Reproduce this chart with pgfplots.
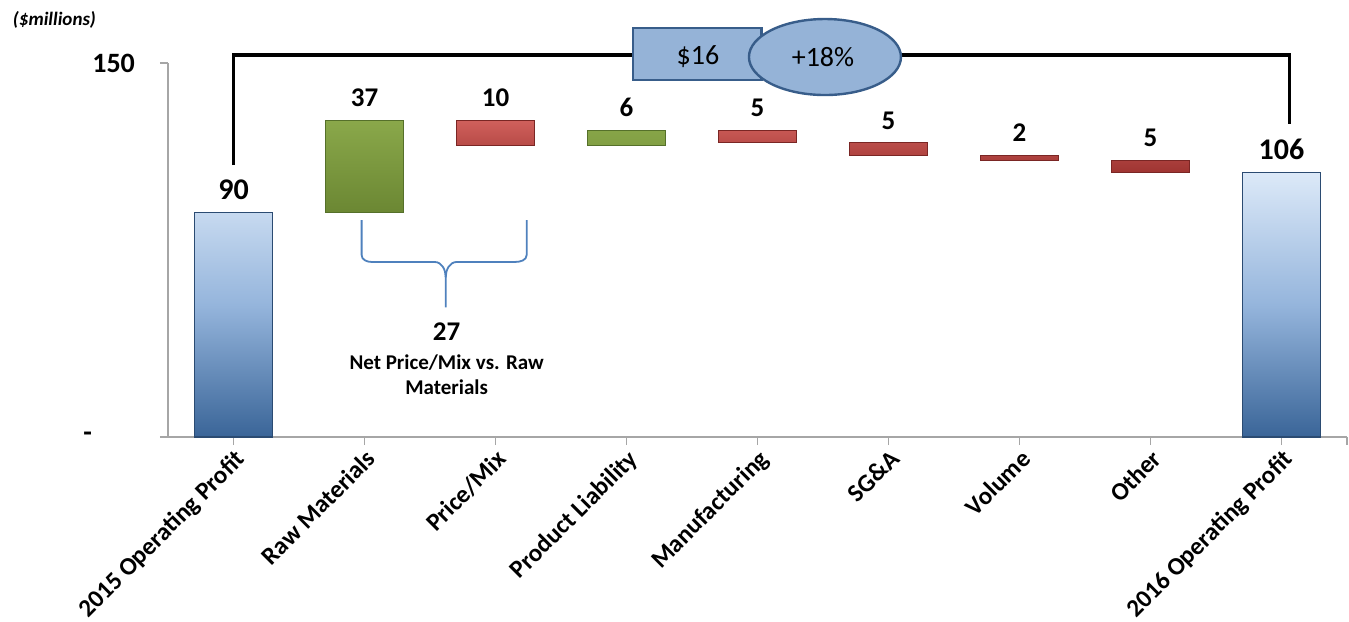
\documentclass[border=0pt]{standalone}
\usepackage{fontspec}
\setmainfont{Carlito}
\usepackage{pgfplots}
\pgfplotsset{compat=1.18}
\usepackage{pgfplotstable}

\definecolor{barblueT}{HTML}{DCE9F8}
\definecolor{barblueM}{HTML}{95B5DC}
\definecolor{barblueB}{HTML}{3A6598}
\definecolor{bluedge}{HTML}{2B4B72}
\definecolor{grnT}{HTML}{8AA84A}
\definecolor{grnB}{HTML}{6B8733}
\definecolor{grnedge}{HTML}{55702A}
\definecolor{redT}{HTML}{D0605C}
\definecolor{redB}{HTML}{9E3431}
\definecolor{rededge}{HTML}{7A2624}
\definecolor{boxfill}{HTML}{95B3D7}
\definecolor{boxedge}{HTML}{385D8A}
\definecolor{bracecol}{HTML}{4F81BD}
\definecolor{axgray}{HTML}{A6A6A6}

\pgfplotstableread{
x total
0 90
8 106
}\totals
\pgfplotstableread{
x base delta top
1 90 37 127
3 117 6 123
}\ups
\pgfplotstableread{
x base delta top
2 117 10 127
4 118 5 123
5 113 5 118
6 111 2 113
7 106 5 111
}\downs

\pgfplotsset{
  wf/.style={
    scale only axis, width=589.5pt, height=187pt,
    at={(0,0)}, anchor=south west,
    xmin=-0.5, xmax=8.5, ymin=0, ymax=150,
    clip=false,
    /pgf/number format/assume math mode=true,
  },
  hidden/.style={wf, hide axis},
  vlabel/.style={nodes near coords,
    every node near coord/.append style={anchor=south, inner sep=0pt, yshift=6.5pt,
      font=\bfseries\fontsize{13.5}{15}\selectfont, text=black}},
}

\begin{document}
\begin{tikzpicture}
\useasboundingbox (-84pt,-92pt) rectangle (590.5pt,218.5pt);
% main axis with totals
\begin{axis}[wf,
  ybar, bar width=39pt, bar shift=0pt,
  axis x line=bottom, axis y line=left,
  axis line style={axgray, line width=0.8pt, -},
  xtick={0,...,8},
  xticklabels={2015 Operating Profit, Raw Materials, Price/Mix, Product Liability, Manufacturing, SG\&A, Volume, Other, 2016 Operating Profit},
  extra x ticks={8.5}, extra x tick labels={},
  ytick={0,150}, yticklabels={{-\kern21.5pt},150},
  tick style={axgray, line width=0.8pt},
  major tick length=4pt, tick align=outside,
  xticklabel style={rotate=45, anchor=north east, inner sep=1pt,
    font=\bfseries\fontsize{12.5}{14}\selectfont},
  yticklabel style={font=\bfseries\fontsize{14}{16}\selectfont, xshift=-9pt},
]
\addplot[draw=bluedge, line width=0.6pt, top color=barblueT, bottom color=barblueB, middle color=barblueM,
  nodes near coords,
  every node near coord/.append style={anchor=south, inner sep=0pt, yshift=6pt,
      font=\bfseries\fontsize{15}{17}\selectfont, text=black}]
  table[x=x, y=total] {\totals};

% connector line and callout
\draw[black, line width=1.8pt] (axis cs:0,109) -- (axis cs:0,153.2) -- (axis cs:3.05,153.2);
\draw[black, line width=1.8pt] (axis cs:5.0,153.2) -- (axis cs:8.06,153.2) -- (axis cs:8.06,125.5);
\draw[fill=boxfill, draw=boxedge, line width=1.2pt] (axis cs:3.05,143.2) rectangle (axis cs:4.03,164);
\draw[fill=boxfill, draw=boxedge, line width=1.2pt] (axis cs:4.515,152.4) ellipse [x radius=38pt, y radius=19pt];
\node[font=\fontsize{14}{16}\selectfont] at (axis cs:3.545,152.4) {\$16};
\node[font=\fontsize{14}{16}\selectfont] at (axis cs:4.5,152.4) {+18\%};

% brace
\draw[bracecol, line width=0.9pt] (axis cs:0.978,87) -- (axis cs:0.978,73)
  to[out=-90,in=180] (axis cs:1.054,70.2) -- (axis cs:1.535,70.2)
  to[out=0,in=90] (axis cs:1.62,64) -- (axis cs:1.62,52);
\draw[bracecol, line width=0.9pt] (axis cs:2.238,87) -- (axis cs:2.238,73)
  to[out=-90,in=0] (axis cs:2.147,70.2) -- (axis cs:1.705,70.2)
  to[out=180,in=90] (axis cs:1.62,64);
\node[font=\bfseries\fontsize{13.5}{15}\selectfont] at (axis cs:1.627,42.1) {27};
\node[font=\bfseries\fontsize{10.5}{12.5}\selectfont, align=center] at (axis cs:1.627,25.1) {Net Price/Mix vs. Raw\\Materials};

\node[font=\bfseries\itshape\fontsize{9.5}{11}\selectfont] at (axis cs:-1.367,167.3) {(\$millions)};
\end{axis}

% increases
\begin{axis}[hidden, ybar stacked, bar width=39pt]
\addplot[draw=none, fill=none] table[x=x, y=base] {\ups};
\addplot[draw=grnedge, line width=0.6pt, top color=grnT, bottom color=grnB]
  table[x=x, y=delta] {\ups};
\end{axis}

% decreases
\begin{axis}[hidden, ybar stacked, bar width=39pt]
\addplot[draw=none, fill=none] table[x=x, y=base] {\downs};
\addplot[draw=rededge, line width=0.6pt, top color=redT, bottom color=redB]
  table[x=x, y=delta] {\downs};
\end{axis}

% value labels of the changes
\begin{axis}[hidden]
\addplot[draw=none, mark=none, vlabel, point meta=explicit]
  table[x=x, y=top, meta=delta] {\ups};
\addplot[draw=none, mark=none, vlabel, point meta=explicit]
  table[x=x, y=top, meta=delta] {\downs};
\end{axis}
\end{tikzpicture}
\end{document}
